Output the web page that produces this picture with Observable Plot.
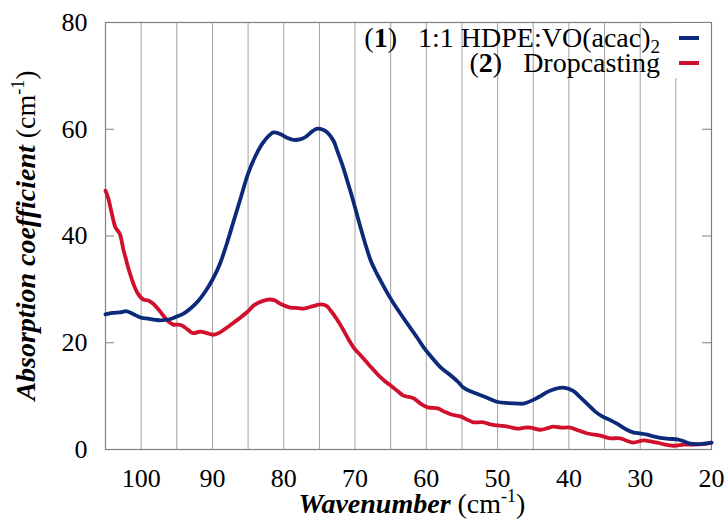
<!DOCTYPE html>
<html>
<head>
<meta charset="utf-8">
<script src="https://cdn.jsdelivr.net/npm/d3@7"></script>
<script src="https://cdn.jsdelivr.net/npm/@observablehq/plot@0.6"></script>
<style>
  html, body { margin: 0; padding: 0; background: white; }
</style>
</head>
<body>
<div id="chart"></div>
<script>
// Series 1: 1:1 HDPE:VO(acac)2 (blue)
const wn1 = [105,104,103,102,101,100,99,98,97.3,96,95,94,93,92,91,90,89,88,87,86,85,84,83,82,81.4,80.5,79.5,78.6,77.5,77,76,75.3,74.5,73.9,73,72.5,71.8,71.1,70.3,69.5,68.6,67.8,67,66.4,65.5,64.6,63.5,62.2,61.2,60.4,59.2,58,56.6,55.5,54.8,53.8,52.8,51.5,50,48.5,47,46.4,45,44,43,41.8,40.8,39.4,38.5,37.4,36.3,35.2,34.2,33.2,32,31,30,29,28,27.2,26,24.8,23.8,23,22,21,20];
const abs1 = [25.3,25.6,25.7,25.9,25.3,24.7,24.5,24.3,24.2,24.4,24.9,25.5,26.5,27.8,29.6,31.8,34.6,38.5,42.9,47.3,51.7,54.9,57.3,58.9,59.4,59.1,58.4,58.0,58.2,58.5,59.6,60.1,59.9,59.4,57.8,56.0,53.4,50.4,46.8,42.9,38.7,35.4,33.1,31.6,29.4,27.4,25.2,22.7,20.8,19.2,17.2,15.4,13.9,12.6,11.6,10.9,10.4,9.7,8.9,8.7,8.6,8.6,9.3,10.0,10.8,11.4,11.6,11.0,9.9,8.5,7.1,6.1,5.5,4.8,3.8,3.2,3.0,2.8,2.4,2.2,2.0,1.9,1.5,1.1,1.0,1.1,1.3];
// Series 2: Dropcasting (red)
const wn2 = [105,104.6,104.3,103.9,103.6,103,102.5,102.2,101.8,101.1,100.5,99.7,99,98.3,97.6,96.9,96.2,95.5,94.8,94.2,93.5,92.7,91.7,90.8,89.9,89,88,87,86.1,85,84.2,83,81.9,81.2,80.5,79.1,78,77.2,76,74.8,74,73.4,72.5,71.6,70.9,70.2,69.2,68,66.4,65.8,65,64,63.2,61.8,60.8,59.8,58.4,57.5,56.6,55.2,54.3,53.4,52,51,50,48.6,47.2,46.2,45.4,44,43,42.2,41,39.8,38.5,37.4,35.6,34.2,32.8,31.8,31,29.5,28.5,27.6,26.5,25.3,23.9,22.5,21.2,20];
const abs2 = [48.5,47.0,45.3,43.0,41.6,40.4,37.5,36.0,34.0,31.1,29.3,28.1,27.9,27.3,26.3,25.1,24.0,23.4,23.4,23.2,22.5,21.8,22.1,21.8,21.5,21.9,22.8,23.8,24.7,25.9,27.0,27.8,28.1,27.9,27.3,26.6,26.5,26.4,26.8,27.2,26.9,26.0,24.3,22.3,20.6,19.1,17.6,15.8,13.5,12.8,12.0,10.9,10.1,9.6,8.6,7.9,7.7,7.1,6.6,6.2,5.6,5.1,5.1,4.7,4.5,4.3,3.9,4.1,4.1,3.7,4.0,4.3,4.1,4.1,3.5,3.0,2.6,2.1,2.1,1.6,1.3,1.7,1.5,1.3,0.9,0.7,0.9,0.9,1.0,1.3];

const xTicks = [100, 90, 80, 70, 60, 50, 40, 30, 20];
const yTicks = [0, 20, 40, 60, 80];
const gridTicks = [100, 95, 90, 85, 80, 75, 70, 65, 60, 55, 50, 45, 40, 35, 30, 25];
const innerTicks = [20, 40, 60];
const xDomain = [105, 20];
const yDomain = [0, 80];

const blue = "#0b2a7a";
const red = "#d0102c";

const s1 = wn1.map((x, i) => ({x, y: abs1[i]}));
const s2 = wn2.map((x, i) => ({x, y: abs2[i]}));

const W = 727, H = 520;
const mL = 105, mR = 16, mT = 22, mB = 71;
const innerW = W - mL - mR;
const ff = "Liberation Serif, Times New Roman, serif";

const plot = Plot.plot({
  width: W,
  height: H,
  marginLeft: mL,
  marginRight: mR,
  marginTop: mT,
  marginBottom: mB,
  style: {fontFamily: ff, fontSize: "26px", color: "black", background: "white"},
  x: {domain: xDomain, label: null},
  y: {domain: yDomain, label: null},
  marks: [
    Plot.gridX(gridTicks, {stroke: "#a0a0a0", strokeOpacity: 1, strokeWidth: 1}),
    Plot.ruleY(innerTicks, {stroke: "#808080", insetRight: innerW - 9}),
    Plot.ruleY(innerTicks, {stroke: "#808080", insetLeft: innerW - 9}),
    Plot.frame({stroke: "#808080", strokeWidth: 1.2}),
    Plot.axisX(xTicks, {tickSize: 0, tickPadding: 19, label: null, fill: "black", fontSize: 26}),
    Plot.axisY(yTicks, {tickSize: 0, tickPadding: 18, label: null, fill: "black", fontSize: 26}),
    Plot.line(s2, {x: "x", y: "y", stroke: red, strokeWidth: 3.8, curve: "catmull-rom"}),
    Plot.line(s1, {x: "x", y: "y", stroke: blue, strokeWidth: 3.8, curve: "catmull-rom"})
  ]
});

const svg = d3.select(plot);

// Y axis title
const yt = svg.append("text")
  .attr("transform", `translate(35,${(mT + (H - mB)) / 2}) rotate(-90)`)
  .attr("text-anchor", "middle")
  .attr("font-family", ff)
  .attr("font-size", 28)
  .attr("fill", "black");
yt.append("tspan").attr("font-weight", "bold").attr("font-style", "italic").text("Absorption coefficient");
yt.append("tspan").text(" (cm");
yt.append("tspan").attr("font-size", 18).attr("dy", -11).text("-1");
yt.append("tspan").attr("dy", 11).text(")");

// X axis title
const xt = svg.append("text")
  .attr("x", 412)
  .attr("y", 513)
  .attr("text-anchor", "middle")
  .attr("font-family", ff)
  .attr("font-size", 28)
  .attr("fill", "black");
xt.append("tspan").attr("font-weight", "bold").attr("font-style", "italic").text("Wavenumber");
xt.append("tspan").text(" (cm");
xt.append("tspan").attr("font-size", 18).attr("dy", -11).text("-1");
xt.append("tspan").attr("dy", 11).text(")");

// Legend
svg.append("rect").attr("x", 674).attr("y", 23).attr("width", 36).attr("height", 55).attr("fill", "white");
const legend = [
  {num: "1", label: "1:1 HDPE:VO(acac)", sub: "2", color: blue, y: 47},
  {num: "2", label: "Dropcasting", sub: null, color: red, y: 72}
];
legend.forEach(d => {
  const t = svg.append("text")
    .attr("x", 660)
    .attr("y", d.y)
    .attr("text-anchor", "end")
    .attr("font-family", ff)
    .attr("font-size", 28)
    .attr("fill", "black");
  t.append("tspan").text("(");
  t.append("tspan").attr("font-weight", "bold").text(d.num);
  t.append("tspan").text(")");
  t.append("tspan").text("   " + d.label);
  if (d.sub) {
    t.append("tspan").attr("font-size", 19).attr("dy", 6).text(d.sub);
  }
  svg.append("line")
    .attr("x1", 679).attr("x2", 699)
    .attr("y1", d.y - 9).attr("y2", d.y - 9)
    .attr("stroke", d.color).attr("stroke-width", 4);
});

document.getElementById("chart").appendChild(plot);
</script>
</body>
</html>
